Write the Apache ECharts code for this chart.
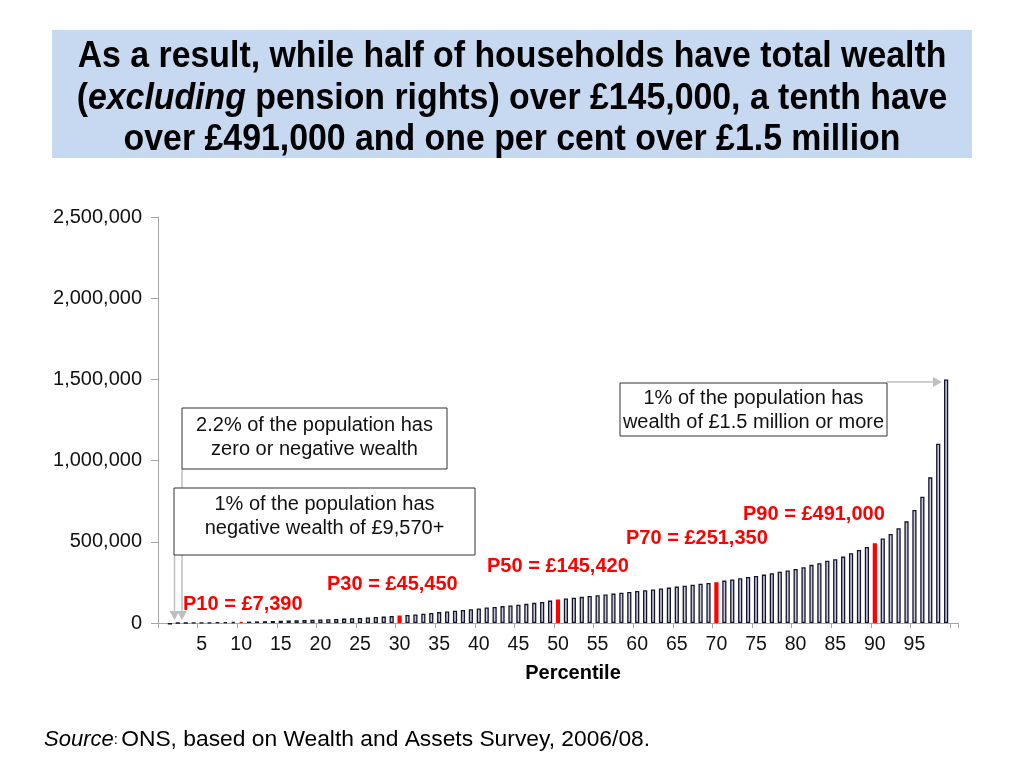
<!DOCTYPE html>
<html>
<head>
<meta charset="utf-8">
<script src="https://cdn.jsdelivr.net/npm/echarts@6/dist/echarts.min.js"></script>
<style>
html,body{margin:0;padding:0;background:#fff;}
#chart{width:1024px;height:768px;}
</style>
</head>
<body>
<div id="chart"></div>
<script>
// Percentile categories (slot 0 and 100 are empty padding slots)
const categories = ['', '1','2','3','4','5','6','7','8','9','10','11','12','13','14','15','16','17','18','19','20',
  '21','22','23','24','25','26','27','28','29','30','31','32','33','34','35','36','37','38','39','40',
  '41','42','43','44','45','46','47','48','49','50','51','52','53','54','55','56','57','58','59','60',
  '61','62','63','64','65','66','67','68','69','70','71','72','73','74','75','76','77','78','79','80',
  '81','82','83','84','85','86','87','88','89','90','91','92','93','94','95','96','97','98','99',''];

// Total wealth (GBP) at each percentile 1..99
const wealth = [
  -9570, 0, 200, 800, 1500, 2400, 3400, 4700, 6000, 7390,
  8500, 9800, 11000, 12500, 14000, 15500, 17000, 18500, 20000, 21500,
  23000, 25000, 27000, 29000, 31000, 33500, 36500, 39500, 42500, 45450,
  49000, 53000, 57000, 62000, 67000, 71000, 76000, 80000, 85000, 90000,
  95000, 99000, 104000, 108000, 113000, 118000, 124000, 130000, 138000, 145420,
  151000, 156000, 161000, 166000, 171000, 176000, 181000, 186000, 191000, 197000,
  202000, 207000, 212000, 218000, 224000, 230000, 236000, 242000, 247000, 251350,
  261000, 268000, 276000, 283000, 290000, 298000, 307000, 316000, 324000, 333000,
  343000, 358000, 368000, 383000, 393000, 409000, 430000, 450000, 468000, 491000,
  520000, 548000, 583000, 626000, 696000, 778000, 897000, 1104000, 1500000
];

const highlighted = [10, 30, 50, 70, 90];
const highlightLabels = ['P10 = £7,390', 'P30 = £45,450', 'P50 = £145,420', 'P70 = £251,350', 'P90 = £491,000'];
const yTicks = [0, 500000, 1000000, 1500000, 2000000, 2500000];

const seriesData = [null];
wealth.forEach(function (v, i) {
  const p = i + 1;
  if (highlighted.indexOf(p) >= 0) {
    seriesData.push({ value: v, itemStyle: { color: '#ff0000', borderColor: '#ff0000' } });
  } else {
    seriesData.push(v);
  }
});
seriesData.push(null);

const chart = echarts.init(document.getElementById('chart'));
const fontBase = 'Arial, "Liberation Sans", Helvetica, sans-serif';
const titleFont = '"Liberation Sans", Arial, sans-serif';

// Red label positions (annotation layout)
const redLabelPos = [[183, 604], [327, 584], [487, 566], [626, 538], [743, 514]];

const graphics = [
  { type: 'rect', shape: { x: 52, y: 30, width: 920, height: 128 }, style: { fill: '#c6d9f1' }, z: 1 },
  { type: 'text', x: 512, y: 99, scaleX: 0.94, z: 2,
    style: {
      text: '{b|As a result, while half of households have total wealth}\n{b|(}{i|excluding}{b| pension rights) over £145,000, a tenth have}\n{b|over £491,000 and one per cent over £1.5 million}',
      align: 'center', verticalAlign: 'middle',
      rich: {
        b: { fontFamily: titleFont, fontWeight: 'bold', fontSize: 36, fill: '#000', lineHeight: 41.5 },
        i: { fontFamily: titleFont, fontWeight: 'bold', fontStyle: 'italic', fontSize: 36, fill: '#000', lineHeight: 41.5 }
      }
    }
  },
  // annotation boxes
  { type: 'rect', shape: { x: 182, y: 408, width: 265, height: 61 }, style: { fill: '#fff', stroke: '#333', lineWidth: 1 }, z: 5 },
  { type: 'text', x: 314.5, y: 437, z: 6, style: { text: '2.2% of the population has\nzero or negative wealth', align: 'center', verticalAlign: 'middle', font: '20px ' + fontBase, fill: '#111', lineHeight: 24 } },
  { type: 'rect', shape: { x: 174, y: 488, width: 301, height: 67 }, style: { fill: '#fff', stroke: '#333', lineWidth: 1 }, z: 5 },
  { type: 'text', x: 324.5, y: 516, z: 6, style: { text: '1% of the population has\nnegative wealth of £9,570+', align: 'center', verticalAlign: 'middle', font: '20px ' + fontBase, fill: '#111', lineHeight: 24 } },
  { type: 'rect', shape: { x: 620, y: 383, width: 267, height: 53 }, style: { fill: '#fff', stroke: '#333', lineWidth: 1 }, z: 5 },
  { type: 'text', x: 753.5, y: 410, z: 6, style: { text: '1% of the population has\nwealth of £1.5 million or more', align: 'center', verticalAlign: 'middle', font: '20px ' + fontBase, fill: '#111', lineHeight: 24 } },
  // arrows
  { type: 'line', shape: { x1: 182, y1: 469, x2: 182, y2: 612 }, style: { stroke: '#bfbfbf', lineWidth: 1.5 }, z: 4 },
  { type: 'polygon', shape: { points: [[177, 611], [187, 611], [182, 620]] }, style: { fill: '#bfbfbf' }, z: 4 },
  { type: 'line', shape: { x1: 174.5, y1: 555, x2: 174.5, y2: 612 }, style: { stroke: '#bfbfbf', lineWidth: 1.5 }, z: 4 },
  { type: 'polygon', shape: { points: [[169.5, 611], [179.5, 611], [174.5, 620]] }, style: { fill: '#bfbfbf' }, z: 4 },
  { type: 'line', shape: { x1: 887, y1: 382, x2: 934, y2: 382 }, style: { stroke: '#bfbfbf', lineWidth: 1.5 }, z: 4 },
  { type: 'polygon', shape: { points: [[933, 377], [933, 387], [942, 382]] }, style: { fill: '#bfbfbf' }, z: 4 },
  // x axis title
  { type: 'text', x: 573, y: 673, z: 6, style: { text: 'Percentile', align: 'center', verticalAlign: 'middle', font: 'bold 20px ' + fontBase, fill: '#000' } },
  // source
  { type: 'text', x: 44, y: 740, z: 6,
    style: {
      text: '{i|Source}{s|:} {n|ONS, based on Wealth and Assets Survey, 2006/08.}',
      verticalAlign: 'middle',
      rich: {
        i: { fontFamily: fontBase, fontStyle: 'italic', fontSize: 22, fill: '#000' },
        s: { fontFamily: fontBase, fontSize: 15, fill: '#000' },
        n: { fontFamily: fontBase, fontSize: 22.8, fill: '#000' }
      }
    }
  }
];

highlightLabels.forEach(function (t, i) {
  graphics.push({ type: 'text', x: redLabelPos[i][0], y: redLabelPos[i][1], z: 6,
    style: { text: t, verticalAlign: 'middle', font: 'bold 20px ' + fontBase, fill: '#ff0000' } });
});

chart.setOption({
  animation: false,
  backgroundColor: '#fff',
  grid: { left: 158, right: 66, top: 217, bottom: 145, containLabel: false },
  xAxis: {
    type: 'category',
    data: categories,
    boundaryGap: true,
    axisLine: { lineStyle: { color: '#a6a6a6', width: 1 } },
    axisTick: { show: true, interval: 4, length: 5, lineStyle: { color: '#a6a6a6' } },
    axisLabel: {
      interval: 4, margin: 12, fontFamily: fontBase, fontSize: 19.5, color: '#111'
    },
    splitLine: { show: false }
  },
  yAxis: {
    type: 'value',
    min: yTicks[0],
    max: yTicks[yTicks.length - 1],
    interval: 500000,
    axisLine: { show: true, lineStyle: { color: '#a6a6a6', width: 1 } },
    axisTick: { show: true, length: 7, lineStyle: { color: '#a6a6a6' } },
    axisLabel: {
      margin: 16, fontFamily: fontBase, fontSize: 20, color: '#111',
      formatter: function (v) { return v.toLocaleString('en-GB'); }
    },
    splitLine: { show: false }
  },
  series: [{
    type: 'bar',
    data: seriesData,
    barWidth: 4.2,
    clip: false,
    itemStyle: { color: '#c6c8de', borderColor: '#15152a', borderWidth: 1.3 }
  }],
  graphic: graphics
});
</script>
</body>
</html>
